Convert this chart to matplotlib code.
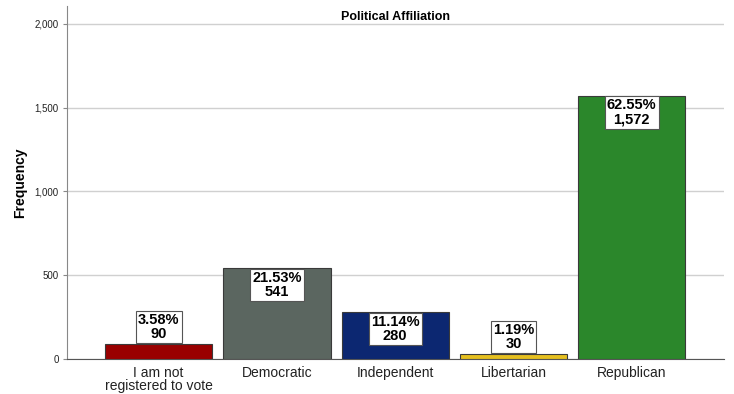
import matplotlib
matplotlib.use("Agg")
import matplotlib.pyplot as plt
from matplotlib.ticker import FuncFormatter

categories = ["I am not\nregistered to vote", "Democratic", "Independent", "Libertarian", "Republican"]
counts = [90, 541, 280, 30, 1572]
percents = [3.58, 21.53, 11.14, 1.19, 62.55]
colors = ["#990000", "#5b6660", "#0c2771", "#e5bf1f", "#2b872b"]
yticks = [0, 500, 1000, 1500, 2000]

plt.rcParams["font.family"] = ["Liberation Sans", "DejaVu Sans"]

fig = plt.figure(figsize=(7.34, 3.94), dpi=100)
ax = fig.add_axes([67/734, 1-359/394, (724-67)/734, (359-6)/394])

x = list(range(len(categories)))
ax.bar(x, counts, width=0.907, color=colors, edgecolor="#3a3a3a", linewidth=0.8, zorder=3)

ax.set_xlim(-0.775, 4.78)
ax.set_ylim(0, 2107)
ax.set_yticks(yticks)
ax.yaxis.set_major_formatter(FuncFormatter(lambda v, p: f"{int(v):,}"))
ax.tick_params(axis="y", labelsize=7, length=3, color="#888888", pad=3, labelcolor="#222222")
ax.tick_params(axis="x", length=0, labelsize=10, pad=5, labelcolor="#222222")
ax.set_xticks(x)
ax.set_xticklabels(categories, linespacing=0.95)
ax.grid(axis="y", color="#d0d0d0", linewidth=1, zorder=0)
ax.set_axisbelow(True)
for s in ["top", "right"]:
    ax.spines[s].set_visible(False)
ax.spines["left"].set_color("#888888")
ax.spines["bottom"].set_color("#555555")

ax.set_ylabel("Frequency", fontsize=10, fontweight="bold")
ax.yaxis.set_label_coords(-0.061, 0.5)
ax.text(0.5, 0.985, "Political Affiliation", transform=ax.transAxes, ha="center", va="top",
        fontsize=9, fontweight="bold")

for xi, c, p in zip(x, counts, percents):
    label = f"{p:.2f}%\n{c:,}"
    inside = c > 200
    ax.annotate(label, xy=(xi, c), xytext=(0, -2 if inside else 2), textcoords="offset points",
                ha="center", va="top" if inside else "bottom", fontsize=10.5, fontweight="bold",
                linespacing=1.0, zorder=5,
                bbox=dict(boxstyle="square,pad=0.15", fc="white", ec="#555555", lw=0.8))

fig.savefig("out.png", dpi=100)
